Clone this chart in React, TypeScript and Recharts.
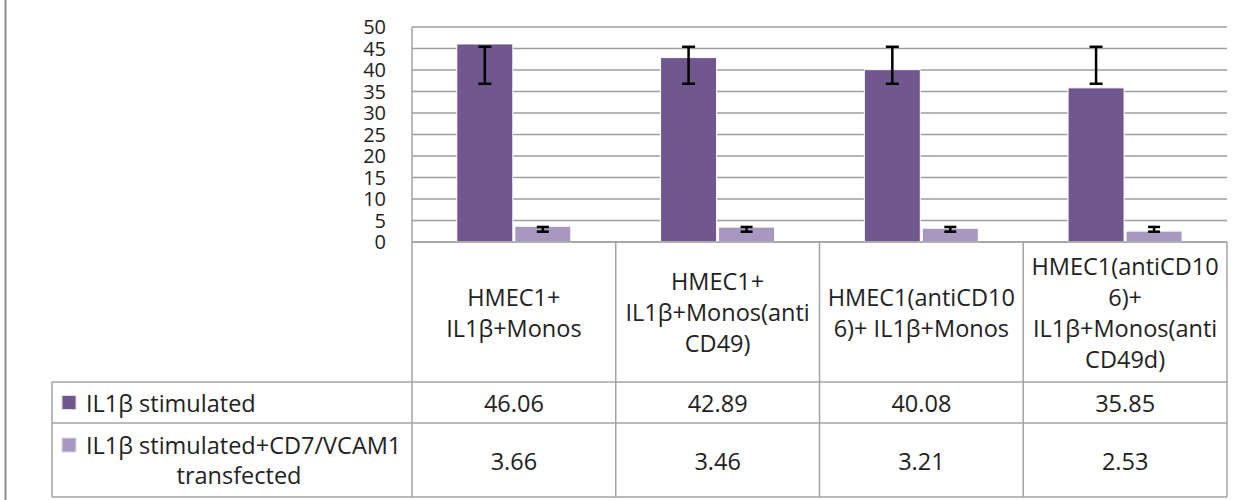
import React from 'react';
import { BarChart, Bar, XAxis, YAxis, CartesianGrid, ErrorBar } from 'recharts';

const categories = [
  'HMEC1+ IL1β+Monos',
  'HMEC1+ IL1β+Monos(anti CD49)',
  'HMEC1(antiCD106)+ IL1β+Monos',
  'HMEC1(antiCD106)+ IL1β+Monos(anti CD49d)',
];
const categoryLines = [
  ['HMEC1+', 'IL1β+Monos'],
  ['HMEC1+', 'IL1β+Monos(anti', 'CD49)'],
  ['HMEC1(antiCD10', '6)+ IL1β+Monos'],
  ['HMEC1(antiCD10', '6)+', 'IL1β+Monos(anti', 'CD49d)'],
];
const seriesNames = ['IL1β stimulated', 'IL1β stimulated+CD7/VCAM1 transfected'];
const legendLines = [['IL1β stimulated'], ['IL1β stimulated+CD7/VCAM1', 'transfected']];
const stimulated = [46.06, 42.89, 40.08, 35.85];
const transfected = [3.66, 3.46, 3.21, 2.53];
const stimulatedErrLow = [36.8, 36.8, 36.8, 36.8];
const stimulatedErrHigh = [45.4, 45.4, 45.4, 45.4];
const transfectedErrLow = [2.4, 2.4, 2.4, 2.4];
const transfectedErrHigh = [3.5, 3.5, 3.5, 3.5];
const yTicks = [0, 5, 10, 15, 20, 25, 30, 35, 40, 45, 50];

const data = categories.map((name, i) => ({
  name,
  s1: stimulated[i],
  s2: transfected[i],
  e1: [stimulated[i] - stimulatedErrLow[i], stimulatedErrHigh[i] - stimulated[i]],
  e2: [transfected[i] - transfectedErrLow[i], transfectedErrHigh[i] - transfected[i]],
}));

const W = 1244;
const H = 500;
const PLOT_L = 412;
const PLOT_R = 1227;
const PLOT_T = 27;
const PLOT_B = 242;
const TABLE_L = 52;
const ROW1_T = 382;
const ROW2_T = 423;
const TABLE_B = 497;
const HEADER_C = 312;
const LINE_H = 31;
const FONT = "'Open Sans', sans-serif";
const FS = 23.5;
const TEXT = '#222';
const BORDER = '#a3a3a3';
const DARK = '#70588f';
const LIGHT = '#a898bf';

const TableTick = (props: any) => {
  const { x, payload } = props;
  const i = payload.index;
  const colW = (PLOT_R - PLOT_L) / categories.length;
  const lines = categoryLines[i];
  const top = HEADER_C - ((lines.length - 1) * LINE_H) / 2;
  return (
    <g>
      {lines.map((ln, k) => (
        <text key={k} x={x} y={top + k * LINE_H} textAnchor="middle" dominantBaseline="central"
          fontFamily={FONT} fontSize={FS} fill={TEXT}>{ln}</text>
      ))}
      <text x={x} y={(ROW1_T + ROW2_T) / 2} textAnchor="middle" dominantBaseline="central"
        fontFamily={FONT} fontSize={FS} fill={TEXT}>{stimulated[i].toFixed(2)}</text>
      <text x={x} y={461} textAnchor="middle" dominantBaseline="central"
        fontFamily={FONT} fontSize={FS} fill={TEXT}>{transfected[i].toFixed(2)}</text>
      <line x1={x + colW / 2} x2={x + colW / 2} y1={PLOT_B} y2={TABLE_B} stroke={BORDER} strokeWidth={1.5} />
      {i === 0 && (
        <g>
          <line x1={x - colW / 2} x2={x - colW / 2} y1={PLOT_B} y2={TABLE_B} stroke={BORDER} strokeWidth={1.5} />
          <line x1={TABLE_L} x2={PLOT_R} y1={ROW1_T} y2={ROW1_T} stroke={BORDER} strokeWidth={1.5} />
          <line x1={TABLE_L} x2={PLOT_R} y1={ROW2_T} y2={ROW2_T} stroke={BORDER} strokeWidth={1.5} />
          <line x1={TABLE_L} x2={PLOT_R} y1={TABLE_B} y2={TABLE_B} stroke={BORDER} strokeWidth={1.5} />
          <line x1={TABLE_L} x2={TABLE_L} y1={ROW1_T} y2={TABLE_B} stroke={BORDER} strokeWidth={1.5} />
          <rect x={62} y={(ROW1_T + ROW2_T) / 2 - 7} width={14} height={14} fill={DARK} stroke="#ddd" strokeWidth={1} />
          <text x={86} y={(ROW1_T + ROW2_T) / 2} dominantBaseline="central"
            fontFamily={FONT} fontSize={FS} fill={TEXT}>{legendLines[0][0]}</text>
          <rect x={62} y={445 - 7} width={14} height={14} fill={LIGHT} stroke="#ddd" strokeWidth={1} />
          <text x={86} y={445} dominantBaseline="central"
            fontFamily={FONT} fontSize={FS} fill={TEXT}>{legendLines[1][0]}</text>
          <text x={239} y={475} textAnchor="middle" dominantBaseline="central"
            fontFamily={FONT} fontSize={FS} fill={TEXT}>{legendLines[1][1]}</text>
        </g>
      )}
    </g>
  );
};

export default function App() {
  return (
    <div style={{ position: 'absolute', left: 0, top: 0, width: W, height: H, background: '#fff', overflow: 'hidden' }}>
      <svg width={W} height={H} style={{ position: 'absolute', left: 0, top: 0 }}>
        <line x1={5.5} x2={5.5} y1={0} y2={H} stroke="#8c8c8c" strokeWidth={2} />
      </svg>
      <div style={{ position: 'absolute', left: 0, top: 0 }}>
        <BarChart width={W} height={H} data={data}
          margin={{ top: PLOT_T, right: W - PLOT_R, bottom: 8, left: PLOT_L - 60 }}
          barCategoryGap="22%" barGap={2}>
          <CartesianGrid vertical={false} stroke="#9e9e9e" strokeWidth={1.5} />
          <XAxis dataKey="name" height={H - 8 - PLOT_B} interval={0} tickLine={false}
            axisLine={{ stroke: BORDER, strokeWidth: 1.5 }} tick={<TableTick />} />
          <YAxis width={60} domain={[0, 50]} ticks={yTicks} interval={0} tickLine={false}
            tickSize={0} tickMargin={26} axisLine={{ stroke: BORDER, strokeWidth: 1.5 }}
            tick={{ fill: TEXT, fontSize: 20, fontFamily: FONT }} />
          <Bar dataKey="s1" name={seriesNames[0]} fill={DARK} stroke="#fff" strokeWidth={1} isAnimationActive={false}>
            <ErrorBar dataKey="e1" width={6.5} strokeWidth={2.5} stroke="#000" direction="y" />
          </Bar>
          <Bar dataKey="s2" name={seriesNames[1]} fill={LIGHT} stroke="#fff" strokeWidth={1} isAnimationActive={false}>
            <ErrorBar dataKey="e2" width={6} strokeWidth={2.5} stroke="#000" direction="y" />
          </Bar>
        </BarChart>
      </div>
    </div>
  );
}
